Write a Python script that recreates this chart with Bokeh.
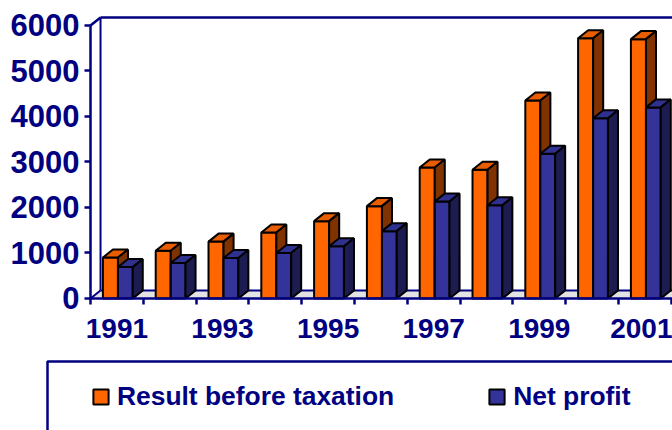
from bokeh.plotting import figure
from bokeh.models import (Range1d, FixedTicker, Legend, LegendItem, LinearAxis, BoxAnnotation)
from bokeh.embed import file_html
from bokeh.resources import INLINE

years = ["1991", "1992", "1993", "1994", "1995", "1996", "1997", "1998", "1999", "2000", "2001"]
result_before_tax = [900, 1050, 1250, 1450, 1700, 2030, 2880, 2830, 4350, 5720, 5700]
net_profit = [690, 780, 890, 1000, 1150, 1480, 2130, 2050, 3180, 3960, 4200]
y_ticks = [0, 1000, 2000, 3000, 4000, 5000, 6000]

NAVY = "#000080"
FONT = "Liberation Sans"

# 3D geometry (data units)
DX = 0.19
DY = 176
X_START, X_END = -1.7045, 11.0227
Y_START, Y_END = -2901, 6549

n = len(years)

p = figure(width=672, height=430, output_backend="svg", toolbar_location=None,
           x_range=Range1d(X_START, X_END), y_range=Range1d(Y_START, Y_END),
           x_axis_location=None, y_axis_location=None,
           min_border_left=0, min_border_right=0, min_border_top=0,
           min_border_bottom=0)
p.outline_line_color = None
p.grid.visible = False
p.background_fill_color = "white"
p.border_fill_color = "white"

# floor
p.patch([0, X_END + 1, X_END + 1 + DX, DX], [0, 0, DY, DY],
        fill_color="#E3E3E3", line_color=None)
p.line([DX, X_END + 1], [DY, DY], line_color=NAVY, line_width=2)
p.line([0, DX], [0, DY], line_color=NAVY, line_width=2)
# back wall
p.line([DX, DX], [DY, 6000 + DY], line_color=NAVY, line_width=2)
p.line([0, DX], [6000, 6000 + DY], line_color=NAVY, line_width=2.5)
p.line([DX, X_END + 1], [6000 + DY, 6000 + DY], line_color=NAVY, line_width=2.5)


def bars(values, x0, x1, front, top, side):
    lefts = [i + x0 for i in range(n)]
    rights = [i + x1 for i in range(n)]
    r = p.quad(left=lefts, right=rights, bottom=0, top=values,
               fill_color=front, line_color="black", line_width=2)
    tops_x = [[l, rr, rr + DX, l + DX] for l, rr in zip(lefts, rights)]
    tops_y = [[v, v, v + DY, v + DY] for v in values]
    p.patches(tops_x, tops_y, fill_color=top, line_color="black", line_width=2)
    side_x = [[rr, rr + DX, rr + DX, rr] for rr in rights]
    side_y = [[0, DY, v + DY, v] for v in values]
    p.patches(side_x, side_y, fill_color=side, line_color="black", line_width=2)
    return r


r1 = bars(result_before_tax, 0.235, 0.52, "#FF6600", "#E85D00", "#803300")
r2 = bars(net_profit, 0.52, 0.80, "#333399", "#30308F", "#1C1C50")

# axes
yax = LinearAxis(ticker=FixedTicker(ticks=y_ticks), bounds=(0, 6000), fixed_location=0)
yax.axis_line_color = NAVY
yax.axis_line_width = 2.5
yax.major_tick_line_color = NAVY
yax.major_tick_line_width = 2.5
yax.major_tick_out = 6
yax.major_tick_in = 0
yax.minor_tick_line_color = None
yax.major_label_standoff = 5
yax.major_label_text_font = FONT
yax.major_label_text_font_style = "bold"
yax.major_label_text_font_size = "31px"
yax.major_label_text_color = NAVY
p.add_layout(yax, "left")

label_pos = [i + 0.5 for i in range(0, n, 2)]
xax = LinearAxis(ticker=FixedTicker(ticks=label_pos, minor_ticks=list(range(n + 1))),
                 bounds=(0, X_END + 1), fixed_location=0)
xax.major_label_overrides = {i + 0.5: years[i] for i in range(0, n, 2)}
xax.axis_line_color = NAVY
xax.axis_line_width = 2.5
xax.major_tick_line_color = None
xax.major_tick_out = 0
xax.major_tick_in = 0
xax.minor_tick_line_color = NAVY
xax.minor_tick_line_width = 2.5
xax.minor_tick_out = 6
xax.minor_tick_in = 0
xax.major_label_standoff = 15
xax.major_label_text_font = FONT
xax.major_label_text_font_style = "bold"
xax.major_label_text_font_size = "28px"
xax.major_label_text_color = NAVY
p.add_layout(xax, "below")

# legend frame (screen units measured from the bottom of the canvas)
box = BoxAnnotation(left=47, right=720, top=69, bottom=-40,
                    left_units="screen", right_units="screen",
                    top_units="screen", bottom_units="screen",
                    fill_color=None, fill_alpha=0, line_color=NAVY, line_width=2.5,
                    line_alpha=1.0)
p.add_layout(box)

legend = Legend(items=[LegendItem(label="Result before taxation", renderers=[r1]),
                       LegendItem(label="Net profit", renderers=[r2])],
                orientation="horizontal", location=(91, 18),
                padding=10, spacing=93, glyph_width=19, glyph_height=19,
                label_standoff=7, label_height=19, label_text_font=FONT,
                label_text_font_style="bold",
                label_text_font_size="26.4px", label_text_color=NAVY,
                border_line_color=None,
                background_fill_color=None, background_fill_alpha=0,
                margin=0)
p.add_layout(legend)

open("out.html", "w").write(file_html(p, INLINE))
